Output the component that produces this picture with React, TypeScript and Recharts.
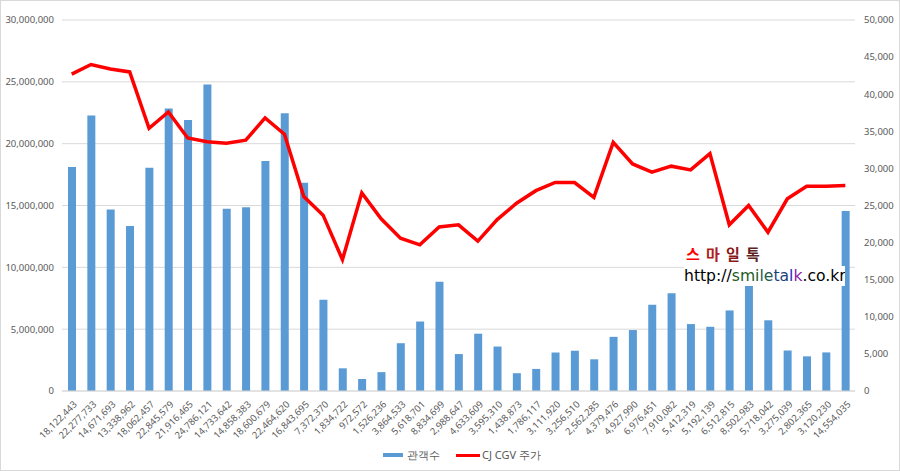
import { Bar, CartesianGrid, ComposedChart, Line, XAxis, YAxis } from 'recharts'

// 관객수 per period (also used as the x tick labels)
const audience = [
  18122443, 22277733, 14671693, 13338962, 18062457, 22845579, 21916465, 24786121,
  14733642, 14858383, 18600679, 22464620, 16843695, 7372370, 1834722, 972572,
  1526236, 3864533, 5618701, 8834699, 2988647, 4633609, 3595310, 1438873,
  1786117, 3111920, 3256510, 2562285, 4379476, 4927990, 6976451, 7910082,
  5412319, 5192139, 6512815, 8502983, 5718042, 3275039, 2802365, 3120230,
  14554035,
]

// CJ CGV 주가
const price = [
  42700, 44000, 43400, 43000, 35400, 37600, 34100, 33600, 33400, 33800,
  36800, 34600, 26200, 23700, 17700, 26700, 23200, 20600, 19700, 22100,
  22400, 20200, 23100, 25300, 27000, 28100, 28100, 26100, 33500, 30600,
  29500, 30300, 29800, 32000, 22400, 25000, 21400, 25900, 27600, 27600,
  27700,
]

const leftTicks = [0, 5000000, 10000000, 15000000, 20000000, 25000000, 30000000]
const rightTicks = [0, 5000, 10000, 15000, 20000, 25000, 30000, 35000, 40000, 45000, 50000]

const watermarkChars = ['스', '마', '일', '톡']
const watermarkColors = ['#ff0000', '#b01c1c', '#8a1a1a', '#5e2222']

const fmt = (v: number) => v.toLocaleString('en-US')

const data = audience.map((a, i) => ({ label: fmt(a), audience: a, price: price[i] }))

const AXIS_COLOR = '#595959'
const FONT = '"Noto Sans", "Liberation Sans", sans-serif'

function RotatedTick({ x, y, payload }: { x?: number; y?: number; payload?: { value: string } }) {
  const ax = (x ?? 0) + 6
  const ay = (y ?? 0) + 6
  return (
    <text
      x={ax}
      y={ay}
      transform={`rotate(-45 ${ax} ${ay})`}
      textAnchor="end"
      fontSize={9.5}
      fontFamily={FONT}
      fill={AXIS_COLOR}
    >
      {payload?.value}
    </text>
  )
}

if (typeof document !== 'undefined') document.body.style.margin = '0'

export default function App() {
  return (
    <div style={{ position: 'relative', width: 900, height: 471, background: '#fff', fontFamily: FONT }}>
      <ComposedChart
        width={900}
        height={471}
        data={data}
        margin={{ top: 20, right: 0, bottom: 0, left: 0 }}
        barCategoryGap={0}
      >
        <CartesianGrid vertical={false} stroke="#d9d9d9" yAxisId="left" />
        <XAxis
          dataKey="label"
          interval={0}
          height={80}
          axisLine={{ stroke: '#d9d9d9' }}
          tickLine={false}
          tick={<RotatedTick />}
        />
        <YAxis
          yAxisId="left"
          orientation="left"
          width={62}
          domain={[0, 30000000]}
          ticks={leftTicks}
          tickFormatter={fmt}
          axisLine={false}
          tickLine={false}
          tick={{ fill: AXIS_COLOR, fontSize: 9.5, fontFamily: FONT }}
        />
        <YAxis
          yAxisId="right"
          orientation="right"
          width={45}
          domain={[0, 50000]}
          ticks={rightTicks}
          tickFormatter={fmt}
          axisLine={false}
          tickLine={false}
          tickMargin={3}
          tick={{ fill: AXIS_COLOR, fontSize: 9.5, fontFamily: FONT }}
        />
        <Bar
          yAxisId="left"
          dataKey="audience"
          name="관객수"
          barSize={8}
          fill="#5b9bd5"
          isAnimationActive={false}
        />
        <Line
          yAxisId="right"
          dataKey="price"
          name="CJ CGV 주가"
          type="linear"
          stroke="#ff0000"
          strokeWidth={3.5}
          dot={false}
          isAnimationActive={false}
        />
      </ComposedChart>

      {/* legend */}
      <div style={{ position: 'absolute', left: 383, top: 446, height: 18, display: 'flex', alignItems: 'center', fontSize: 11, color: AXIS_COLOR }}>
        <span style={{ display: 'inline-block', width: 20, height: 4, background: '#5b9bd5', marginRight: 4 }} />
        <span style={{ marginRight: 16 }}>관객수</span>
        <span style={{ display: 'inline-block', width: 24, height: 3, background: '#ff0000', marginRight: 2 }} />
        <span>CJ CGV 주가</span>
      </div>

      {/* watermark */}
      <div style={{ position: 'absolute', left: 686, top: 244, fontSize: 15, fontWeight: 'bold', fontFamily: '"Noto Sans CJK KR", sans-serif', lineHeight: '20px', whiteSpace: 'nowrap' }}>
        {watermarkChars.map((c, i) => (
          <span key={c} style={{ color: watermarkColors[i], display: 'inline-block', width: 20 }}>
            {c}
          </span>
        ))}
      </div>
      <div style={{ position: 'absolute', left: 684, top: 266, width: 161, height: 20, background: '#fff', overflow: 'hidden', fontSize: 15.6, fontFamily: '"DejaVu Sans", sans-serif', lineHeight: '20px', whiteSpace: 'pre', color: '#000' }}>
        <span>http://</span>
        <span style={{ color: '#1d5a1d' }}>smi</span>
        <span style={{ color: '#1f5c4a' }}>le</span>
        <span style={{ color: '#1e3f7a' }}>ta</span>
        <span style={{ color: '#2424c8' }}>l</span>
        <span style={{ color: '#8a1aa8' }}>k</span>
        <span>.co.kr</span>
      </div>

      <div style={{ position: 'absolute', inset: 0, border: '1px solid #d9d9d9', pointerEvents: 'none' }} />
    </div>
  )
}
